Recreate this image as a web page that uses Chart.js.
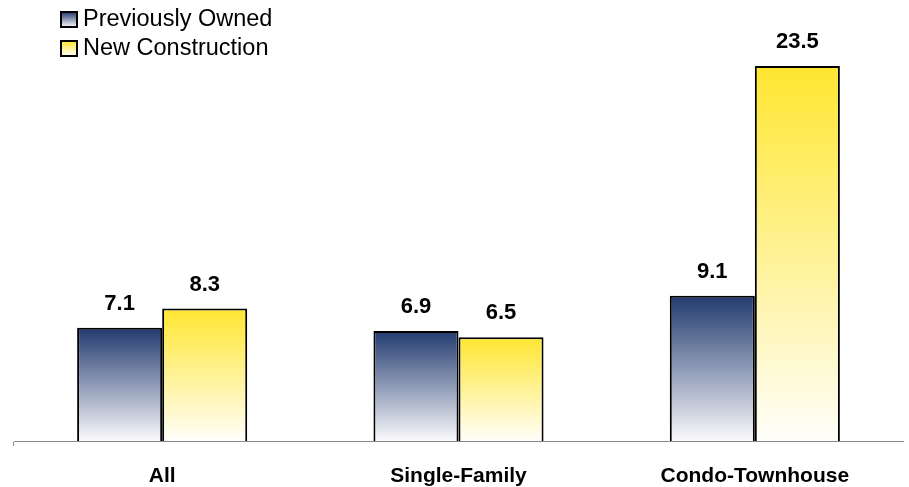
<!DOCTYPE html>
<html>
<head>
<meta charset="utf-8">
<script src="https://cdn.jsdelivr.net/npm/chart.js@4.4.1/dist/chart.umd.min.js"></script>
<style>
  html, body { margin: 0; padding: 0; background: #fff; }
  #wrap { width: 909px; height: 487px; position: relative; }
</style>
</head>
<body>
<div id="wrap"><canvas id="myChart"></canvas></div>
<script>
const categories = ['All', 'Single-Family', 'Condo-Townhouse'];
const previouslyOwned = [7.1, 6.9, 9.1];
const newConstruction = [8.3, 6.5, 23.5];
const seriesNames = ['Previously Owned', 'New Construction'];

const FONT = '"Liberation Sans", Arial, sans-serif';

// top colour / bottom colour for each series
const shades = [
    ['#223a6f', '#fafafc'],
    ['#ffe630', '#fffefa']
];

function barGradient(ctx, shade, top, bottom) {
    const g = ctx.createLinearGradient(0, top, 0, bottom);
    g.addColorStop(0, shade[0]);
    g.addColorStop(1, shade[1]);
    return g;
}

function fillFor(i) {
    return function(context) {
        const chart = context.chart;
        const area = chart.chartArea;
        if (!area || !chart.scales.y || context.raw === undefined) return shades[i][0];
        const top = chart.scales.y.getPixelForValue(context.raw);
        return barGradient(chart.ctx, shades[i], top, area.bottom);
    };
}

// value labels above each bar
const valueLabels = {
    id: 'valueLabels',
    afterDatasetsDraw(chart) {
        const ctx = chart.ctx;
        ctx.save();
        ctx.font = 'bold 22px ' + FONT;
        ctx.fillStyle = '#000';
        ctx.textAlign = 'center';
        ctx.textBaseline = 'alphabetic';
        chart.data.datasets.forEach((ds, i) => {
            chart.getDatasetMeta(i).data.forEach((bar, j) => {
                ctx.fillText(ds.data[j].toFixed(1), bar.x, bar.y - 18);
            });
        });
        ctx.restore();
    }
};

// legend in the top-left corner, inside the plot
const cornerLegend = {
    id: 'cornerLegend',
    afterDraw(chart) {
        const ctx = chart.ctx;
        ctx.save();
        ctx.font = '23.5px ' + FONT;
        ctx.textBaseline = 'middle';
        ctx.textAlign = 'left';
        seriesNames.forEach((name, i) => {
            const y = 19 + i * 29;
            const x = 61;
            ctx.fillStyle = barGradient(ctx, shades[i], y - 7, y + 8);
            ctx.fillRect(x, y - 7, 16, 15);
            ctx.lineWidth = 2;
            ctx.strokeStyle = '#000';
            ctx.strokeRect(x, y - 7, 16, 15);
            ctx.fillStyle = '#000';
            ctx.fillText(name, x + 22, y + 1);
        });
        ctx.restore();
    }
};

const data = {
    labels: categories,
    datasets: [{
        label: seriesNames[0],
        data: previouslyOwned,
        backgroundColor: fillFor(0),
        borderColor: '#000',
        borderWidth: 2,
        borderSkipped: 'bottom'
    }, {
        label: seriesNames[1],
        data: newConstruction,
        backgroundColor: fillFor(1),
        borderColor: '#000',
        borderWidth: 2,
        borderSkipped: 'bottom'
    }]
};

const config = {
    type: 'bar',
    data,
    options: {
        responsive: false,
        animation: false,
        layout: { padding: { left: 14, right: 6, top: 42, bottom: 0 } },
        categoryPercentage: 0.574,
        barPercentage: 1.0,
        plugins: {
            legend: { display: false },
            tooltip: { enabled: false }
        },
        scales: {
            y: {
                display: false,
                min: 0,
                max: 25
            },
            x: {
                afterFit: function(scale) {
                    scale.height = 46;
                },
                border: { display: true, color: '#888', width: 1 },
                grid: {
                    drawOnChartArea: false,
                    tickLength: 5,
                    color: function(ctx) {
                        return (ctx.index === 0 || ctx.index === categories.length) ? '#888' : 'rgba(0,0,0,0)';
                    }
                },
                ticks: {
                    color: '#000',
                    padding: 18,
                    font: { family: FONT, size: 21, weight: 'bold' }
                }
            }
        }
    },
    plugins: [valueLabels, cornerLegend]
};

const canvas = document.getElementById('myChart');
canvas.width = 909;
canvas.height = 487;
new Chart(canvas, config);
</script>
</body>
</html>
